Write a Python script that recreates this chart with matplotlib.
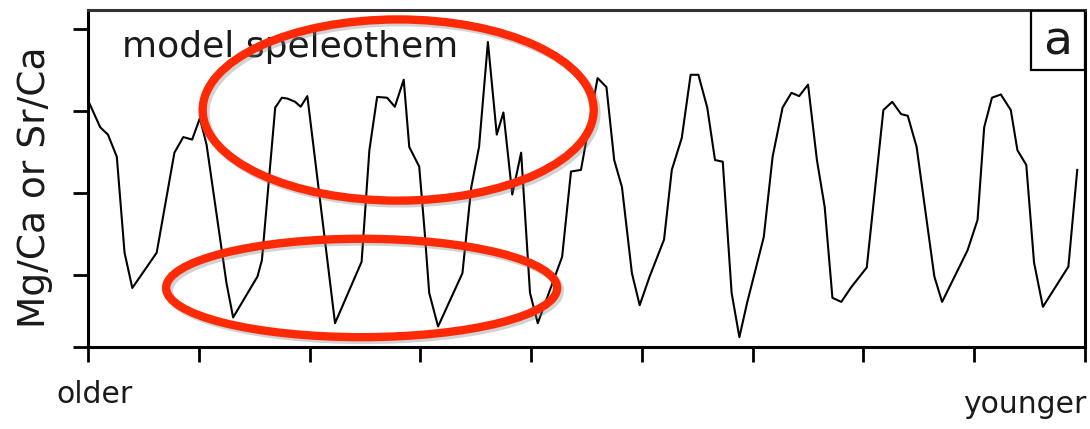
import matplotlib
matplotlib.use("Agg")
import matplotlib.pyplot as plt
from matplotlib.patches import Ellipse, Rectangle
import matplotlib.patheffects as pe

plt.rcParams['font.family'] = ['DejaVu Sans']

# position along the sample (older -> younger), arbitrary units
position = [0.00, 0.11, 0.18, 0.26, 0.33, 0.40, 0.62, 0.78, 0.86, 0.94,
            1.01, 1.07, 1.25, 1.31, 1.53, 1.57, 1.69, 1.75, 1.80, 1.87,
            1.92, 1.98, 2.23, 2.47, 2.54, 2.61, 2.70, 2.77, 2.85, 2.90,
            2.99, 3.04, 3.08, 3.16, 3.38, 3.46, 3.53, 3.61, 3.69, 3.75,
            3.83, 3.91, 3.99, 4.06, 4.28, 4.36, 4.45, 4.60, 4.68, 4.75,
            4.82, 4.91, 4.98, 5.07, 5.20, 5.27, 5.36, 5.44, 5.51, 5.59,
            5.66, 5.73, 5.81, 5.88, 5.95, 6.10, 6.18, 6.27, 6.35, 6.42,
            6.50, 6.58, 6.65, 6.72, 6.80, 6.89, 7.03, 7.18, 7.26, 7.34,
            7.40, 7.48, 7.64, 7.71, 7.94, 8.03, 8.09, 8.16, 8.24, 8.33,
            8.39, 8.47, 8.54, 8.62, 8.85, 8.93]
# Mg/Ca or Sr/Ca (arbitrary units)
ratio = [3.13, 2.80, 2.71, 2.44, 1.27, 0.84, 1.27, 2.49, 2.68, 2.65,
         2.91, 2.59, 0.90, 0.48, 0.98, 1.18, 3.04, 3.16, 3.15, 3.11,
         3.05, 3.18, 0.41, 1.16, 2.52, 3.17, 3.16, 3.05, 3.38, 2.56,
         2.32, 1.51, 0.78, 0.37, 1.02, 2.07, 2.56, 3.84, 2.71, 2.98,
         1.98, 2.49, 0.78, 0.41, 1.22, 2.26, 2.28, 3.40, 3.29, 2.40,
         2.07, 1.02, 0.63, 0.98, 1.43, 2.28, 2.67, 3.44, 3.44, 3.04,
         2.40, 2.38, 0.78, 0.24, 0.66, 1.46, 2.44, 3.04, 3.22, 3.18,
         3.32, 2.40, 1.83, 0.72, 0.67, 0.85, 1.09, 3.01, 3.11, 2.96,
         2.94, 2.56, 0.98, 0.67, 1.30, 1.67, 2.80, 3.16, 3.20, 3.01,
         2.52, 2.34, 1.15, 0.61, 1.10, 2.28]

x_ticks = list(range(10))
y_ticks = [1, 2, 3, 4]
y_min, y_max = 0.12, 4.23

fig = plt.figure(figsize=(10.9, 4.29), dpi=100)
ax = fig.add_axes([88/1090, 1 - 347/429, (1085 - 88)/1090, (347 - 10)/429])

ax.plot(position, ratio, color='black', lw=1.5, zorder=3)

ax.set_xlim(0, 9)
ax.set_ylim(y_min, y_max)
ax.set_xticks(x_ticks)
ax.set_yticks([y_min] + y_ticks)
ax.set_xticklabels([])
ax.set_yticklabels([])
ax.tick_params(direction='out', length=11, width=2.0, color='black')
for s in ax.spines.values():
    s.set_linewidth(2.2)
    s.set_color('black')
ax.spines['top'].set_color('#333333')

# panel label box
ax.add_patch(Rectangle((0.946, 0.822), 0.054, 0.178, transform=ax.transAxes,
                       fill=False, edgecolor='black', lw=1.6, zorder=4))
ax.text(0.973, 0.905, 'a', transform=ax.transAxes, ha='center', va='center',
        fontsize=34, color='#1a1a1a')

ax.text(0.034, 0.861, 'model speleothem', transform=ax.transAxes,
        ha='left', va='baseline', fontsize=26, color='#1a1a1a')

# red highlight ellipses
shadow = [pe.SimpleLineShadow(offset=(2, -2), shadow_color='gray', alpha=0.35), pe.Normal()]
ax.add_patch(Ellipse((2.80, 3.01), 3.53, 2.21, fill=False, edgecolor='#fe2a06',
                     lw=6, zorder=5, clip_on=False, path_effects=shadow))
ax.add_patch(Ellipse((2.47, 0.84), 3.53, 1.20, fill=False, edgecolor='#fe2a06',
                     lw=6, zorder=5, clip_on=False, path_effects=shadow))

fig.text(35/1090, 1 - 187/429, 'Mg/Ca or Sr/Ca', rotation=90, ha='center',
         va='center', fontsize=27, color='#1a1a1a')
fig.text(95/1090, 1 - 403/429, 'older', ha='center', va='baseline',
         fontsize=21.5, color='#1a1a1a')
fig.text(1086/1090, 1 - 413/429, 'younger', ha='right', va='baseline',
         fontsize=21.5, color='#1a1a1a')

fig.savefig('out.png', dpi=100)
